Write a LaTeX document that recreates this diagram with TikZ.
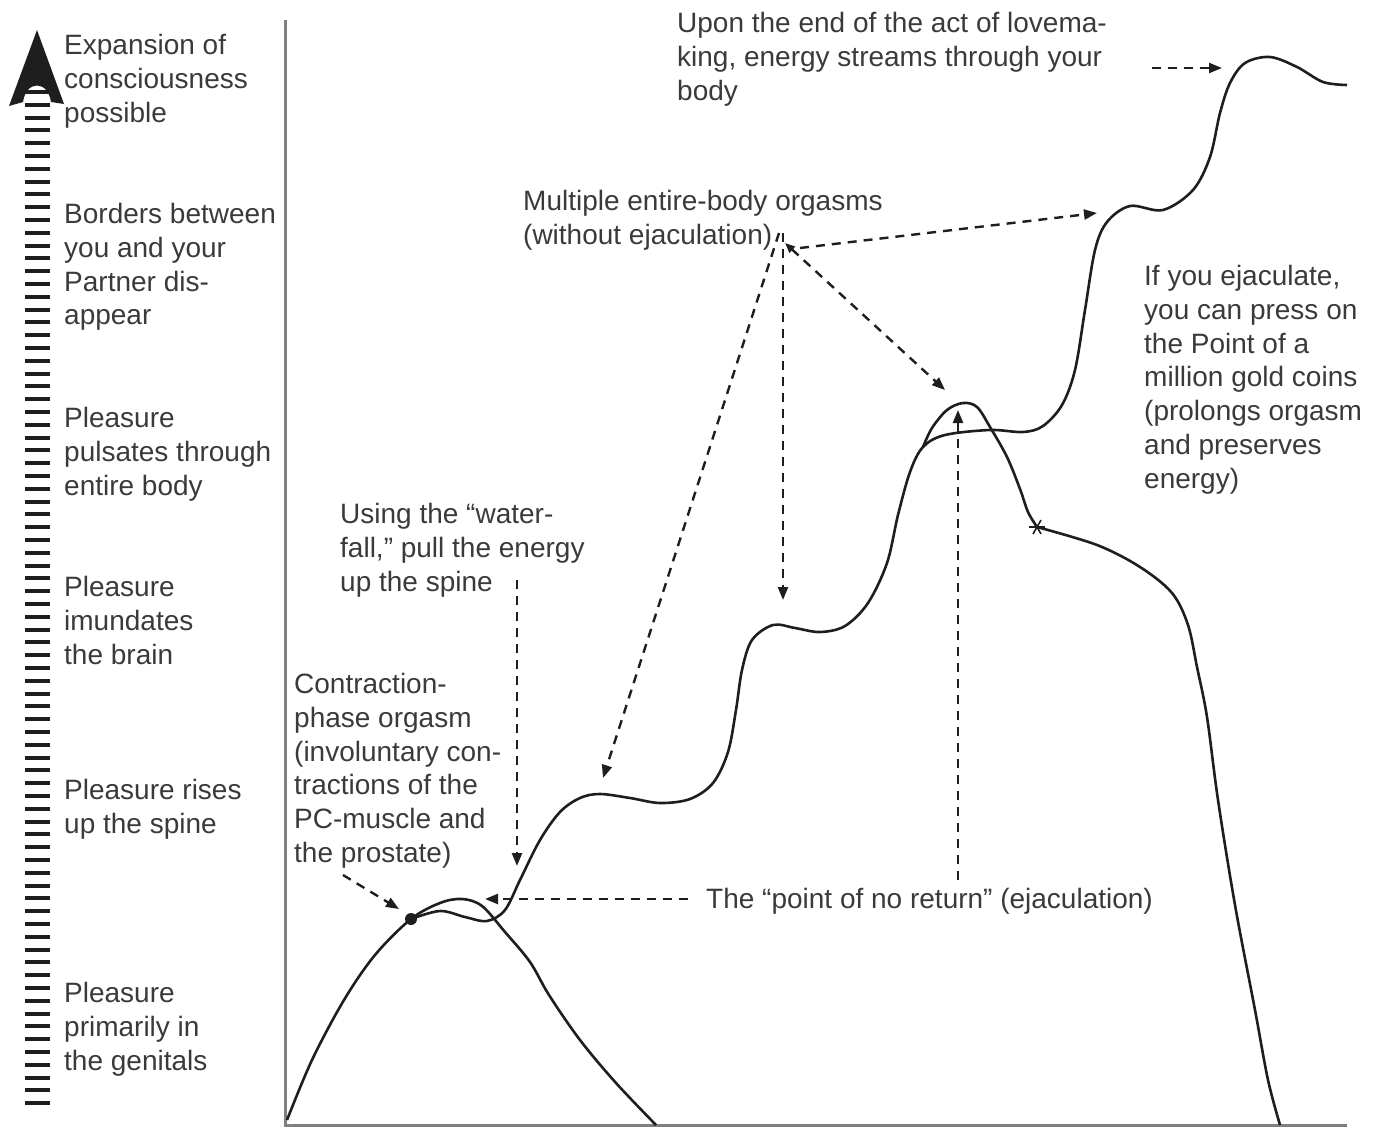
\documentclass[tikz,border=0pt]{standalone}
\usepackage{fontspec}
\setmainfont{Liberation Sans}
\usetikzlibrary{arrows.meta}
\definecolor{txtgray}{HTML}{3A3A3A}
\definecolor{axgray}{HTML}{808080}
\definecolor{ink}{HTML}{1E1E1E}
\begin{document}
\begin{tikzpicture}[x=1pt,y=-1pt,
  lbl/.style={anchor=north west, align=left, inner sep=0pt, text=txtgray,
              font=\fontsize{28}{33.8}\selectfont},
  crv/.style={line width=2.6pt, ink, line join=round},
  axisline/.style={line width=3pt, axgray},
  rung/.style={line width=4pt, ink},
  dsh/.style={line width=2.4pt, ink, dash pattern=on 9pt off 7pt,
              -{Triangle[length=13pt,width=10pt]}},
  dshboth/.style={line width=2.4pt, ink, dash pattern=on 9pt off 7pt,
              {Triangle[length=10pt,width=8pt]}-{Triangle[length=13pt,width=10pt]}}]
\useasboundingbox (0,0) rectangle (1377,1132);

% vertical scale: ladder with arrowhead
\foreach \k in {0,...,79}{\draw[rung] (25,{92+12.8*\k}) -- (50,{92+12.8*\k});}
\fill[ink] (37,30) -- (64,104) -- (51,102) .. controls (48,80) and (26,80) .. (23,102) -- (9,106) -- cycle;

% axes
\draw[axisline] (285,20) -- (285,1125) -- (1347,1125);

% left labels
\node[lbl] (l1) at (64,34) {Expansion of\\consciousness\\possible};
\node[lbl] (l2) at (64,203) {Borders between\\you and your\\Partner dis-\\appear};
\node[lbl] (l3) at (64,407) {Pleasure\\pulsates through\\entire body};
\node[lbl] (l4) at (64,576) {Pleasure\\imundates\\the brain};
\node[lbl] (l5) at (64,779) {Pleasure rises\\up the spine};
\node[lbl] (l6) at (64,982) {Pleasure\\primarily in\\the genitals};

% other labels
\node[lbl] (t1) at (677,12) {Upon the end of the act of lovema-\\king, energy streams through your\\body};
\node[lbl] (t2) at (523,190) {Multiple entire-body orgasms\\(without ejaculation)};
\node[lbl] (t3) at (1144,265) {If you ejaculate,\\you can press on\\the Point of a\\million gold coins\\(prolongs orgasm\\and preserves\\energy)};
\node[lbl] (t4) at (340,503) {Using the “water-\\fall,” pull the energy\\up the spine};
\node[lbl] (t5) at (294,673) {Contraction-\\phase orgasm\\(involuntary con-\\tractions of the\\PC-muscle and\\the prostate)};
\node[lbl] (t6) at (706,888) {The “point of no return” (ejaculation)};

% curves
\draw[crv] plot[smooth, tension=0.55] coordinates {(287,1120) (312,1060) (344,1000) (375,955) (411,919) (440,903) (462,899) (482,906) (505,932) (530,962) (549,995) (580,1040) (616,1083) (656,1125)};
\draw[crv] plot[smooth, tension=0.55] coordinates {(411,919) (440,911) (465,917) (487,921) (505,910) (520,880) (540,840) (560,812) (580,798) (600,794) (630,798) (660,803) (690,799) (713,783) (728,752) (736,710) (742,670) (752,640) (773,625) (795,628) (820,632) (845,626) (868,603) (887,563) (898,515) (910,472) (923,447) (945,435) (990,430) (1023,432) (1043,426) (1062,405) (1075,370) (1085,310) (1095,250) (1107,222) (1130,206) (1163,210) (1193,190) (1210,157) (1220,113) (1230,83) (1245,63) (1270,57) (1297,67) (1323,82) (1347,85)};
\draw[crv] plot[smooth, tension=0.55] coordinates {(923,447) (932,428) (947,410) (963,403) (977,407) (990,427) (1007,457) (1020,489) (1028,512) (1037,527)};
\draw[crv] plot[smooth, tension=0.55] coordinates {(1037,527) (1097,545) (1140,567) (1172,593) (1188,625) (1197,667) (1207,717) (1218,800) (1235,905) (1255,1010) (1268,1080) (1280,1125)};

% markers
\fill[ink] (411,919) circle (6);
\foreach \a in {0,60,120}{\draw[ink, line width=1.6pt] (1037,527) ++(\a:8) -- ++(\a+180:16);}

% connector end points
\coordinate (hub) at (785,243);
\coordinate (topend) at (1222,68);
\coordinate (plat3) at (1097,213);
\coordinate (plat1) at (603,778);
\coordinate (plat2) at (783,600);
\coordinate (peak2) at (945,390);
\coordinate (fallend) at (517,866);
\coordinate (dot) at (399,909);
\coordinate (noret) at (485,899);
\coordinate (peak2b) at (958,410);

% connectors
\draw[dsh] (1152,68) -- (topend);
\draw[dsh] ([xshift=15pt,yshift=-5pt]hub) -- (plat3);
\draw[dsh] ([xshift=-6pt,yshift=10pt]hub) -- (plat1);
\draw[dsh] ([xshift=-2pt,yshift=10pt]hub) -- (plat2);
\draw[dshboth] (hub) -- (peak2);
\draw[dsh] (517,580) -- (fallend);
\draw[dsh] (343,875) -- (dot);
\draw[dsh] (688,899) -- (noret);
\draw[dsh] (958,880) -- (peak2b);
\end{tikzpicture}
\end{document}
